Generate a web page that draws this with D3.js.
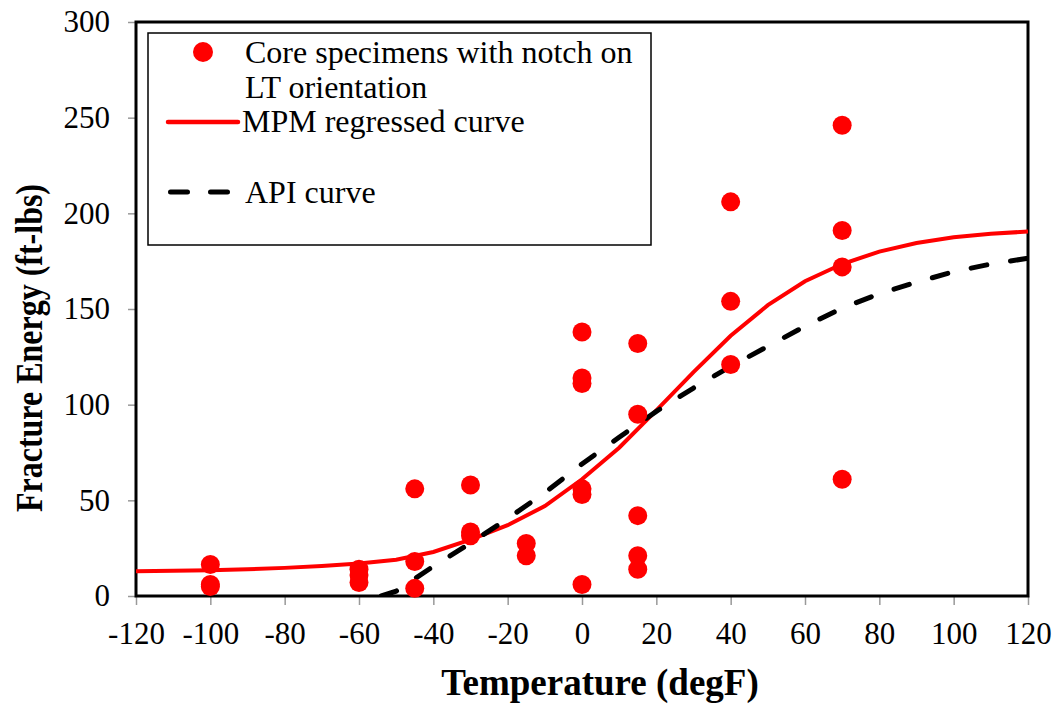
<!DOCTYPE html>
<html>
<head>
<meta charset="utf-8">
<script src="https://cdn.jsdelivr.net/npm/d3@7"></script>
<style>
  body { margin: 0; background: #fff; }
</style>
</head>
<body>
<svg id="chart" width="1060" height="704"></svg>
<script>
// specimen data (temperature degF, energy ft-lbs)
const specTemp = [-100, -100, -100, -60, -60, -60, -45, -45, -45, -30, -30, -30, -15, -15,
  0, 0, 0, 0, 0, 0, 15, 15, 15, 15, 15, 40, 40, 40, 70, 70, 70, 70];
const specEnergy = [16.5, 5, 6, 14, 11, 7, 56, 18, 4, 58, 33.5, 31.5, 27.5, 21,
  138, 114, 111, 56, 53, 6, 132, 95, 42, 21, 14, 206, 154, 121, 246, 191, 172, 61];

// MPM regressed curve
const mpmTemp = [-120, -110, -100, -90, -80, -70, -60, -50, -40, -30, -20, -10, 0,
  10, 20, 30, 40, 50, 60, 70, 80, 90, 100, 110, 120];
const mpmEnergy = [13, 13.2, 13.5, 14, 14.7, 15.7, 17, 19, 23, 29.5, 37, 47, 61,
  77.5, 97, 117, 136, 152, 164.5, 173.5, 180, 184.5, 187.5, 189.3, 190.5];

// API curve
const apiTemp = [-54, -50, -40, -30, -20, -10, 0, 10, 20, 30, 40, 50, 60, 70, 80, 90, 100, 110, 120];
const apiEnergy = [0, 2.5, 15.5, 27.6, 40.5, 54, 69, 83, 96.5, 108.7, 120, 130.5, 141, 150.5,
  158, 164, 169.5, 173.5, 176.5];

const xTicks = d3.range(-120, 121, 20);
const yTicks = d3.range(0, 301, 50);

const serif = 'Liberation Serif';

const margin = { top: 22, right: 32, bottom: 108, left: 136 };
const width = 1060 - margin.left - margin.right;
const height = 704 - margin.top - margin.bottom;

const svg = d3.select('#chart').attr('font-family', serif);
const g = svg.append('g').attr('transform', `translate(${margin.left},${margin.top})`);

const x = d3.scaleLinear().domain([-120, 120]).range([0, width]);
const y = d3.scaleLinear().domain([0, 300]).range([height, 0]);

// axes
const xAxis = g.append('g')
  .attr('transform', `translate(0,${height})`)
  .call(d3.axisBottom(x).tickValues(xTicks).tickFormat(d => String(d))
    .tickSize(9).tickSizeOuter(0).tickPadding(17));
const yAxis = g.append('g')
  .call(d3.axisLeft(y).tickValues(yTicks).tickFormat(d => String(d))
    .tickSize(8).tickSizeOuter(0).tickPadding(18));

[xAxis, yAxis].forEach(a => {
  a.attr('font-family', serif);
  a.select('.domain').remove();
  a.selectAll('line').attr('stroke', '#999').attr('stroke-width', 1.5);
  a.selectAll('text')
    .attr('font-size', 31)
    .attr('fill', '#000');
});
xAxis.selectAll('text').attr('dy', '0.71em');

// plot frame
g.append('rect')
  .attr('width', width).attr('height', height)
  .attr('fill', 'none').attr('stroke', '#000').attr('stroke-width', 3);

// clip for curves
g.append('clipPath').attr('id', 'clip')
  .append('rect').attr('width', width).attr('height', height);

const line = d3.line().x(d => x(d[0])).y(d => y(d[1]));

g.append('path')
  .datum(mpmTemp.map((t, i) => [t, mpmEnergy[i]]))
  .attr('clip-path', 'url(#clip)')
  .attr('fill', 'none').attr('stroke', '#ff0000').attr('stroke-width', 4)
  .attr('d', line);

g.append('path')
  .datum(apiTemp.map((t, i) => [t, apiEnergy[i]]))
  .attr('clip-path', 'url(#clip)')
  .attr('fill', 'none').attr('stroke', '#000').attr('stroke-width', 5)
  .attr('stroke-linecap', 'round')
  .attr('stroke-dasharray', '16 24')
  .attr('d', line);

g.selectAll('circle.spec')
  .data(specTemp.map((t, i) => [t, specEnergy[i]]))
  .enter().append('circle')
  .attr('class', 'spec')
  .attr('cx', d => x(d[0]))
  .attr('cy', d => y(d[1]))
  .attr('r', 9.5)
  .attr('fill', '#ff0000');

// legend
const leg = svg.append('g').attr('transform', 'translate(148,33)');
leg.append('rect')
  .attr('width', 503).attr('height', 212)
  .attr('fill', '#fff').attr('stroke', '#000').attr('stroke-width', 1.5);
leg.append('circle').attr('cx', 55).attr('cy', 19).attr('r', 10).attr('fill', '#ff0000');
leg.append('text').attr('x', 97).attr('y', 30).attr('font-size', 32).text('Core specimens with notch on');
leg.append('text').attr('x', 97).attr('y', 65).attr('font-size', 32).text('LT orientation');
leg.append('line').attr('x1', 20).attr('x2', 90).attr('y1', 89).attr('y2', 89)
  .attr('stroke', '#ff0000').attr('stroke-width', 4.5).attr('stroke-linecap', 'round');
leg.append('text').attr('x', 94).attr('y', 99).attr('font-size', 32).text('MPM regressed curve');
leg.append('line').attr('x1', 22.5).attr('x2', 80).attr('y1', 159).attr('y2', 159)
  .attr('stroke', '#000').attr('stroke-width', 5).attr('stroke-linecap', 'round')
  .attr('stroke-dasharray', '17 23');
leg.append('text').attr('x', 97).attr('y', 170).attr('font-size', 32).text('API curve');

// axis titles
svg.append('text')
  .attr('x', 600).attr('y', 695)
  .attr('text-anchor', 'middle')
  .attr('font-size', 37).attr('font-weight', 'bold')
  .text('Temperature (degF)');

svg.append('text')
  .attr('transform', 'translate(42,348) rotate(-90) scale(1,1.2)')
  .attr('text-anchor', 'middle')
  .attr('font-size', 32).attr('font-weight', 'bold')
  .text('Fracture Energy (ft-lbs)');
</script>
</body>
</html>
